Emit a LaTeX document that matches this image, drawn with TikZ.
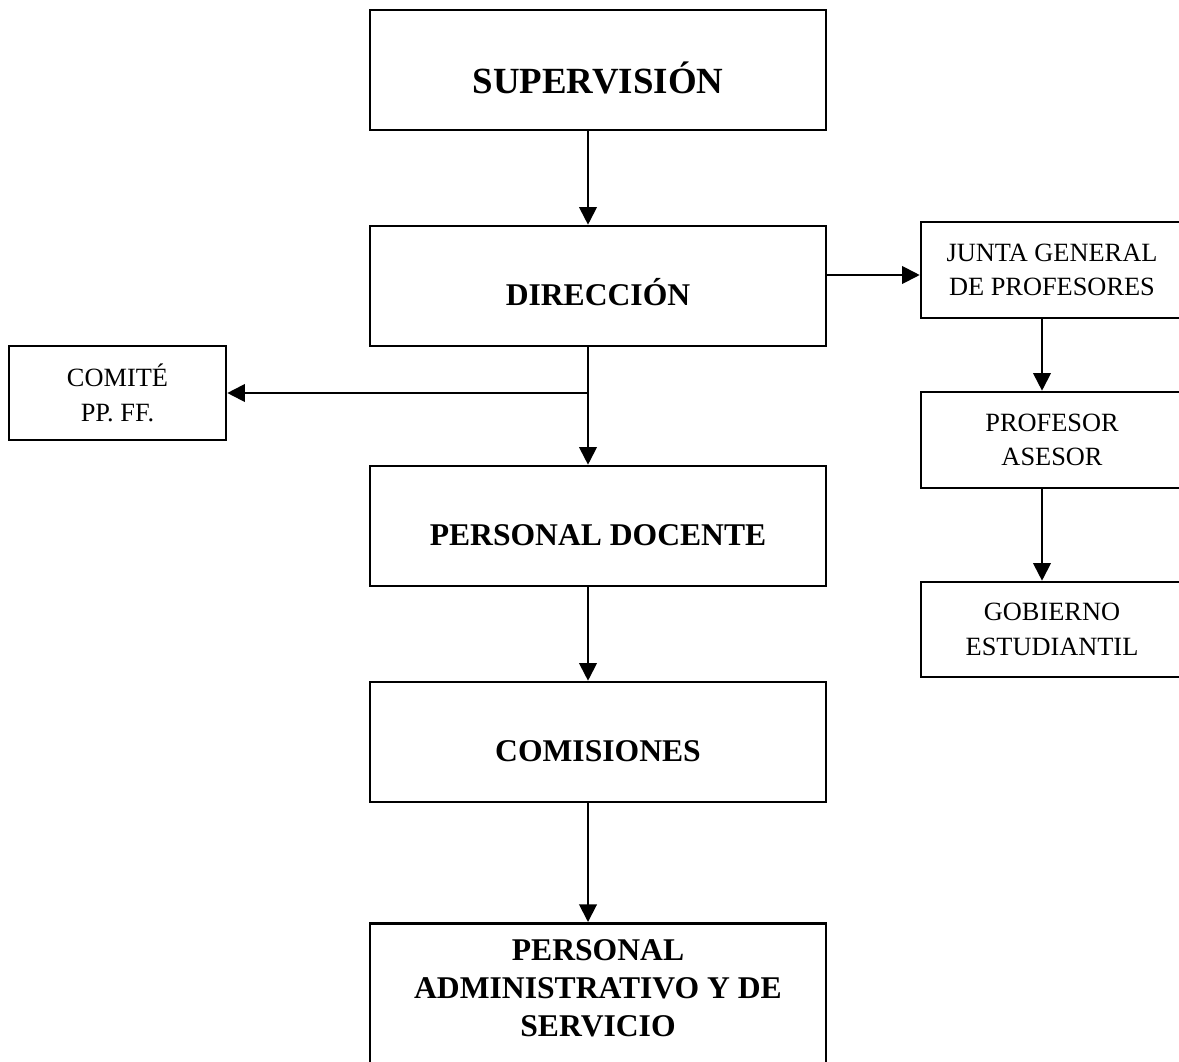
\documentclass[tikz,border=0pt]{standalone}
\usepackage{fontspec}
\setmainfont{Liberation Serif}
\usetikzlibrary{arrows.meta}
\tikzstyle{mainbox}=[draw=black, line width=1.5pt, minimum width=9.12cm, minimum height=2.4cm, inner sep=0pt, align=center, font=\fontsize{18}{21.5}\selectfont\bfseries, text height=22pt, text depth=0pt]
\tikzstyle{sidebox}=[draw=black, line width=1.5pt, minimum width=5.24cm, minimum height=1.92cm, inner sep=0pt, align=center, font=\fontsize{15}{19.5}\selectfont]
\tikzstyle{link}=[line width=1.1pt, -{Triangle[length=10pt,width=10pt]}]

\begin{document}
\begin{tikzpicture}[x=0.02cm, y=-0.02cm]
    \useasboundingbox (0,0) rectangle (1179,1061);

    %main column
    \node[mainbox, text height=27pt, font=\fontsize{21}{25}\selectfont\bfseries] (sup) at (598,70) {SUPERVISIÓN};
    \node[mainbox] (dir) at (598,286) {DIRECCIÓN};
    \node[mainbox] (doc) at (598,526) {PERSONAL DOCENTE};
    \node[mainbox] (com) at (598,742) {COMISIONES};
    \node[mainbox, minimum height=4cm, anchor=north] (adm) at (598,922) {};
    \node[align=center, inner sep=0pt, font=\fontsize{18}{21.5}\selectfont\bfseries] (admtext) at (598,988) {PERSONAL\\ADMINISTRATIVO Y DE\\SERVICIO};

    %right column
    \node[sidebox] (junta) at (1052,270) {JUNTA GENERAL\\DE PROFESORES};
    \node[sidebox] (asesor) at (1052,440) {PROFESOR\\ASESOR};
    \node[sidebox, minimum height=1.9cm] (gob) at (1052,629.5) {GOBIERNO\\ESTUDIANTIL};

    %left
    \node[sidebox, minimum width=4.34cm, minimum height=1.88cm] (ppff) at (117.5,393) {COMITÉ\\PP. FF.};

    %arrows
    \draw[link] ([xshift=-2mm]sup.south) -- ([xshift=-2mm]dir.north);
    \draw[link] ([xshift=-2mm]dir.south) -- ([xshift=-2mm]doc.north);
    \coordinate (split) at ([xshift=-2mm]dir.south |- ppff.east);
    \draw[link] (split) -- (ppff.east);
    \draw[link] ([xshift=-2mm]doc.south) -- ([xshift=-2mm]com.north);
    \draw[link] ([xshift=-2mm]com.south) -- ([xshift=-2mm]adm.north);
    \draw[link] ([yshift=-1mm]dir.east |- junta.west) -- ([yshift=-1mm]junta.west);
    \draw[link] ([xshift=-2mm]junta.south) -- ([xshift=-2mm]asesor.north);
    \draw[link] ([xshift=-2mm]asesor.south) -- ([xshift=-2mm]gob.north);

\end{tikzpicture}
\end{document}
